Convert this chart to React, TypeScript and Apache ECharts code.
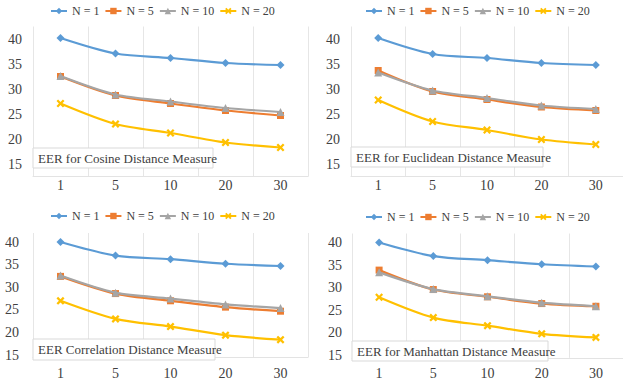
import React, { useEffect, useRef } from "react";
import * as echarts from "echarts";

const categories = ["1", "5", "10", "20", "30"];
const seriesNames = ["N = 1", "N = 5", "N = 10", "N = 20"];
const yLabels = [15, 20, 25, 30, 35, 40];

const cosineN1 = [40.2, 37.1, 36.2, 35.2, 34.8];
const cosineN5 = [32.5, 28.7, 27.1, 25.7, 24.7];
const cosineN10 = [32.6, 28.9, 27.5, 26.2, 25.4];
const cosineN20 = [27.1, 23.0, 21.2, 19.3, 18.3];

const euclidN1 = [40.2, 37.0, 36.2, 35.2, 34.8];
const euclidN5 = [33.7, 29.5, 27.9, 26.4, 25.7];
const euclidN10 = [33.3, 29.7, 28.2, 26.7, 26.0];
const euclidN20 = [27.8, 23.5, 21.8, 19.9, 18.9];

const corrN1 = [40.0, 37.0, 36.2, 35.2, 34.7];
const corrN5 = [32.4, 28.6, 27.0, 25.6, 24.7];
const corrN10 = [32.6, 28.8, 27.5, 26.2, 25.4];
const corrN20 = [27.0, 23.0, 21.3, 19.4, 18.4];

const manhN1 = [40.0, 37.0, 36.1, 35.2, 34.7];
const manhN5 = [33.9, 29.6, 28.0, 26.5, 25.9];
const manhN10 = [33.4, 29.7, 28.1, 26.7, 25.9];
const manhN20 = [27.9, 23.4, 21.6, 19.8, 19.0];

const panelTitles = [
  "EER for Cosine Distance Measure",
  "EER for Euclidean Distance Measure",
  "EER Correlation Distance Measure",
  "EER for Manhattan Distance Measure",
];

const panelData = [
  [cosineN1, cosineN5, cosineN10, cosineN20],
  [euclidN1, euclidN5, euclidN10, euclidN20],
  [corrN1, corrN5, corrN10, corrN20],
  [manhN1, manhN5, manhN10, manhN20],
];

const colors = ["#5B9BD5", "#ED7D31", "#A5A5A5", "#FFC000"];
const xSymbol =
  "path://M0,2 L2,0 L5,3 L8,0 L10,2 L7,5 L10,8 L8,10 L5,7 L2,10 L0,8 L3,5 Z";
const symbols = ["diamond", "rect", "triangle", xSymbol];
const symbolSizes = [8, 7, 8, 8];

const FONT = "Liberation Serif";
const TXT = "#404040";

export default function App() {
  const ref = useRef<HTMLDivElement>(null);
  useEffect(() => {
    if (!ref.current) return;
    const chart = echarts.init(ref.current, undefined, { renderer: "svg" });

    const grids = [
      { left: 33, top: 26.5, width: 275, height: 150 },
      { left: 351, top: 26.5, width: 274, height: 150 },
      { left: 33, top: 233, width: 275, height: 124.3 },
      { left: 352, top: 233.5, width: 274, height: 124.3 },
    ];
    const yRanges = [
      [12.5, 42.5],
      [12.5, 42.5],
      [14.5, 42],
      [14.5, 42],
    ];
    const xMargins = [2, 2, 9, 9];
    const yMargins = [11, 11, 14, 10];
    const legendPos = [
      { left: 45, top: 0 },
      { left: 360, top: 0 },
      { left: 45, top: 205 },
      { left: 360, top: 206 },
    ];
    const boxes = [
      { x: 33, y: 148, w: 180, h: 20 },
      { x: 351, y: 147, w: 192, h: 20 },
      { x: 33, y: 339, w: 182, h: 21 },
      { x: 352, y: 341, w: 196, h: 20 },
    ];

    const series: any[] = [];
    panelData.forEach((group, gi) => {
      group.forEach((vals, si) => {
        series.push({
          name: seriesNames[si],
          type: "line",
          xAxisIndex: gi,
          yAxisIndex: gi,
          data: vals,
          smooth: 0.3,
          symbol: symbols[si],
          symbolSize: symbolSizes[si],
          showSymbol: true,
          lineStyle: { color: colors[si], width: 2.2 },
          itemStyle: { color: colors[si] },
          z: 2 + si,
        });
      });
    });

    const graphic: any[] = [];
    boxes.forEach((b, i) => {
      graphic.push({
        type: "rect",
        shape: { x: b.x, y: b.y, width: b.w, height: b.h },
        style: { fill: "#ffffff", stroke: "#d9d9d9", lineWidth: 1 },
        z: 100,
      });
      graphic.push({
        type: "text",
        x: b.x + 5,
        y: b.y + b.h / 2,
        style: {
          text: panelTitles[i],
          fill: TXT,
          fontFamily: FONT,
          fontSize: 13,
          verticalAlign: "middle",
        },
        z: 101,
      });
    });

    chart.setOption({
      animation: false,
      grid: grids.map((g) => ({ ...g, containLabel: false })),
      legend: legendPos.map((p) => ({
        ...p,
        width: 262,
        data: seriesNames,
        itemWidth: 16,
        itemHeight: 8,
        itemGap: 5,
        textStyle: { fontFamily: FONT, fontSize: 12, color: TXT },
        selectedMode: false,
      })),
      xAxis: grids.map((_, i) => ({
        type: "category",
        gridIndex: i,
        data: categories,
        boundaryGap: true,
        axisLine: { show: true, lineStyle: { color: "#e3e3e3", width: 1 } },
        axisTick: { show: false },
        axisLabel: {
          color: TXT,
          fontFamily: FONT,
          fontSize: 14,
          margin: xMargins[i],
        },
        splitLine: { show: true, lineStyle: { color: "#e6e6e6", width: 1 } },
      })),
      yAxis: grids.map((_, i) => ({
        type: "value",
        gridIndex: i,
        min: yRanges[i][0],
        max: yRanges[i][1],
        interval: 0.5,
        axisLine: { show: false },
        axisTick: { show: false },
        splitLine: { show: false },
        axisLabel: {
          color: TXT,
          fontFamily: FONT,
          fontSize: 14,
          margin: yMargins[i],
          interval: 0,
          showMinLabel: true,
          showMaxLabel: true,
          formatter: (v: number) =>
            yLabels.indexOf(Math.round(v * 100) / 100) >= 0 ? String(v) : "",
        },
      })),
      series,
      graphic,
    });
    return () => chart.dispose();
  }, []);
  return (
    <div
      ref={ref}
      style={{ position: "absolute", left: 0, top: 0, width: 623, height: 385 }}
    />
  );
}
